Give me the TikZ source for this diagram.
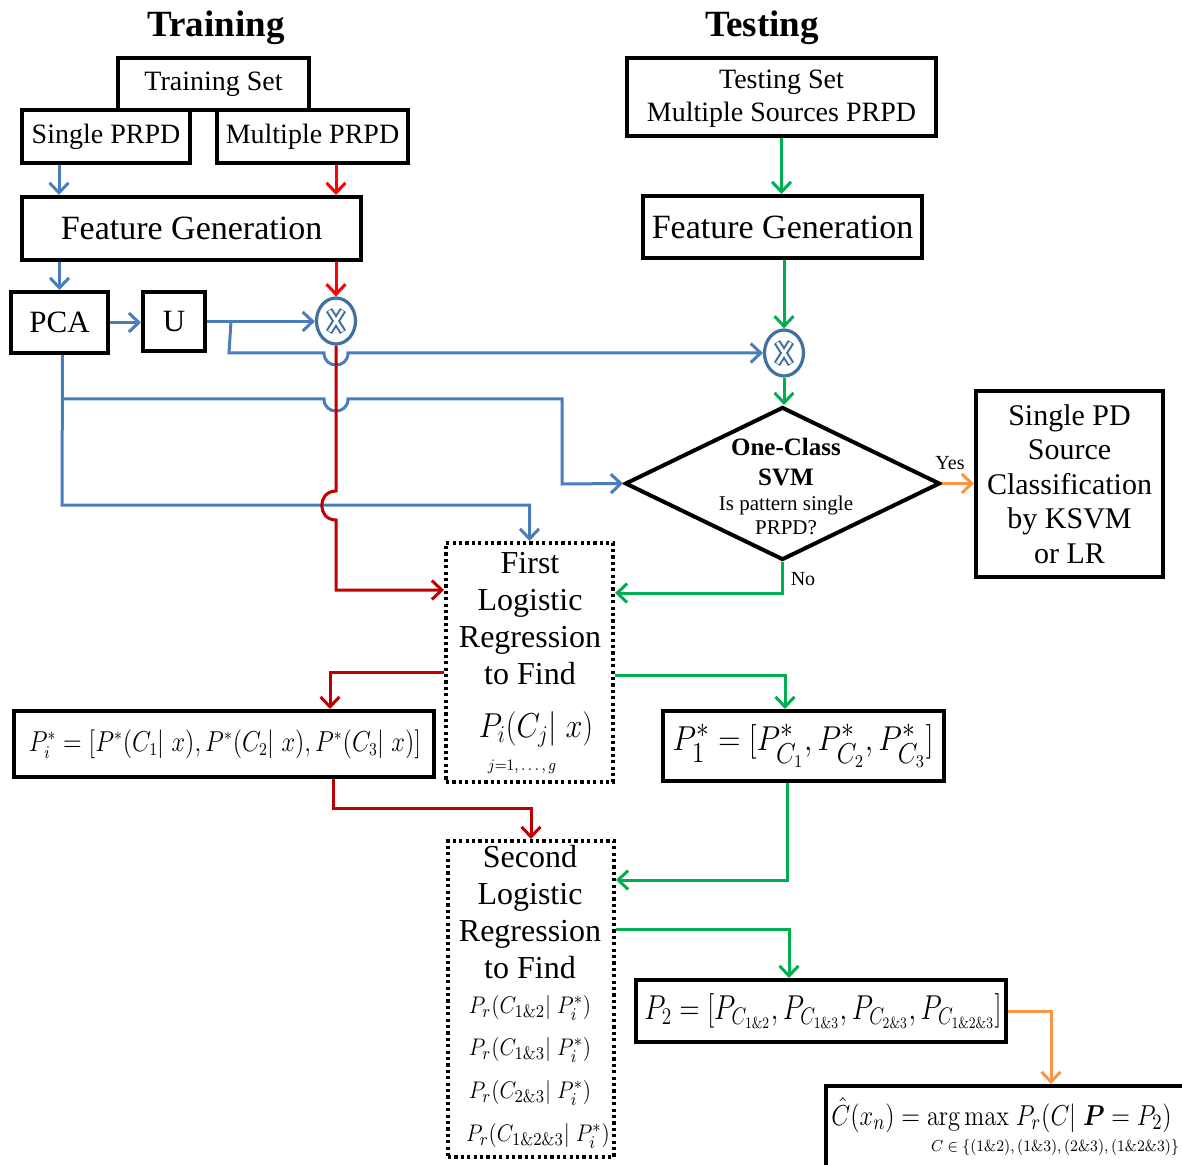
\documentclass[tikz,border=0pt]{standalone}
\usepackage{amsmath}
\usepackage{graphicx}
\usepackage[no-math]{fontspec}
\setmainfont{Liberation Serif}
\usetikzlibrary{arrows.meta,shapes.geometric}
\definecolor{cblue}{RGB}{74,126,187}
\definecolor{cred}{RGB}{255,0,0}
\definecolor{cdred}{RGB}{192,0,0}
\definecolor{cgreen}{RGB}{0,176,80}
\definecolor{corange}{RGB}{247,150,70}
\definecolor{cx}{RGB}{65,113,156}
\newcommand\fs[2]{\fontsize{#1}{#2}\selectfont}
\newcommand\sx[2]{\scalebox{#1}[1]{#2}}
\newcommand\crossmark[3]{%
  \node[xnode] (#1) at (#2,#3) {};
  \draw[cx,line width=3.6pt] (#2-7,#3-11) -- (#2+7,#3+11) (#2-7,#3+11) -- (#2+7,#3-11);
  \draw[white,line width=1.5pt] (#2-6.6,#3-10.4) -- (#2+6.6,#3+10.4) (#2-6.6,#3+10.4) -- (#2+6.6,#3-10.4);
}
\begin{document}
\begin{tikzpicture}[x=0.5pt,y=-0.5pt,
  box/.style={draw,line width=2pt,inner sep=0pt,fill=white},
  dbox/.style={draw,line width=2pt,inner sep=0pt,dash pattern=on 1.6pt off 1.6pt},
  xnode/.style={ellipse,draw=cx,line width=1.6pt,fill=white,minimum width=19.5pt,minimum height=23pt,inner sep=0pt},
  arr/.style={-{Straight Barb[length=5pt,width=9.5pt]}},
  bl/.style={draw=cblue,line width=1.5pt,arr},
  rd/.style={draw=cred,line width=1.5pt,arr},
  drd/.style={draw=cdred,line width=1.5pt,arr},
  gr/.style={draw=cgreen,line width=1.5pt,arr},
  og/.style={draw=corange,line width=1.5pt,arr},
  t14/.style={font=\fs{14}{16.5}},
]
\useasboundingbox (0,0) rectangle (1182,1165);

% titles
\node[font=\bfseries\fs{18.5}{20}] (ttrain) at (216,28) {Training};
\node[font=\bfseries\fs{18.5}{20}] (ttest) at (762,28) {Testing};

% training boxes
\node[box,t14,minimum width=95.5pt,minimum height=26pt] (trainset) at (213.5,84) {Training Set};
\node[box,t14,minimum width=84pt,minimum height=26.5pt] (single) at (106,136.5) {Single PRPD};
\node[box,t14,minimum width=95.5pt,minimum height=26.5pt] (multi) at (312.5,136.5) {Multiple PRPD};
\node[box,font=\fs{17}{20},minimum width=169.5pt,minimum height=31.5pt] (fgL) at (191.5,228.5) {Feature Generation};
\node[box,font=\fs{15.5}{18},minimum width=48.5pt,minimum height=30.5pt] (pca) at (59.5,322.5) {PCA};
\node[box,font=\fs{15.5}{18},minimum width=31pt,minimum height=29.5pt] (u) at (174,321.5) {U};

% testing boxes
\node[box,minimum width=154.5pt,minimum height=39pt] (testset) at (781.5,97) {};
\node[t14,align=center] (testsett) at (781.5,99) {Testing Set\\Multiple Sources PRPD};
\node[box,font=\fs{17}{20},minimum width=139.5pt,minimum height=31pt] (fgR) at (782.5,227) {Feature Generation};

\crossmark{xL}{336}{321}
\crossmark{xR}{784}{353}

% diamond
\node[diamond,draw,line width=2pt,inner sep=0pt,minimum width=157.5pt,minimum height=76.5pt] (svm) at (782.5,483.5) {};
\node[font=\bfseries\fs{12.5}{15},align=center] (svmt) at (786,462) {One-Class\\SVM};
\node[font=\fs{10.5}{12},align=center] (svmq) at (786,515) {Is pattern single\\PRPD?};

\node[box,font=\fs{15}{17.25},align=center,minimum width=93.5pt,minimum height=93pt] (spd) at (1069.5,484) {Single PD\\Source\\Classification\\by KSVM\\or LR};

% first LR
\node[dbox,minimum width=83.5pt,minimum height=119.5pt] (lr1) at (529.5,662.5) {};
\node[font=\fs{16}{18.5},align=center] (lr1t) at (530,619) {First\\Logistic\\Regression\\to Find};
\node[font=\fs{17}{20}] (lr1f) at (536,729) {\sx{0.88}{$P_i(C_j|\; x)$}};
\node[font=\fs{8}{9}] (lr1s) at (522,767) {\sx{0.9}{$j{=}1,\ldots,g$}};

\node[box,minimum width=210pt,minimum height=33pt] (pi) at (224,744) {};
\node[font=\fs{13.5}{16}] (pif) at (225,744) {\sx{0.85}{$P_i^*=[P^*(C_1|\; x),P^*(C_2|\; x),P^*(C_3|\; x)]$}};
\node[box,minimum width=140.5pt,minimum height=35pt] (p1) at (803.5,746) {};
\node[font=\fs{19}{22}] (p1f) at (803,746) {\sx{0.89}{$P_1^*=[P^*_{C_1},P^*_{C_2},P^*_{C_3}]$}};

% second LR
\node[dbox,minimum width=83pt,minimum height=158pt] (lr2) at (531,999) {};
\node[font=\fs{16}{18.5},align=center] (lr2t) at (530,912) {Second\\Logistic\\Regression\\to Find};
\node[font=\fs{13}{15}] (f1) at (530,1008) {\sx{0.9}{$P_r(C_{1\&2}|\; P_i^*)$}};
\node[font=\fs{13}{15}] (f2) at (530,1050) {\sx{0.9}{$P_r(C_{1\&3}|\; P_i^*)$}};
\node[font=\fs{13}{15}] (f3) at (530,1093) {\sx{0.9}{$P_r(C_{2\&3}|\; P_i^*)$}};
\node[font=\fs{13}{15}] (f4) at (538,1136) {\sx{0.9}{$P_r(C_{1\&2\&3}|\; P_i^*)$}};

\node[box,minimum width=185pt,minimum height=31pt] (p2) at (821,1011) {};
\node[font=\fs{17}{20}] (p2f) at (823,1011) {\sx{0.8}{$P_2=[P_{C_{1\&2}},P_{C_{1\&3}},P_{C_{2\&3}},P_{C_{1\&2\&3}}]$}};

\node[box,minimum width=187pt,minimum height=47pt] (chat) at (1013,1133) {};
\node[font=\fs{15}{18},anchor=west,inner sep=1pt] (chatf) at (829,1115) {\sx{0.85}{$\hat C(x_n)=\mathrm{arg\,max}\;P_r(C|\;\boldsymbol{P}=P_2)$}};
\node[font=\fs{8}{9},inner sep=1pt] (chats) at (1055,1147) {\sx{0.92}{$C\in\{(1\&2),(1\&3),(2\&3),(1\&2\&3)\}$}};

% blue connectors
\draw[bl] ([xshift=-23.5pt]single.south) -- ([xshift=-23.5pt]single.south |- fgL.north);
\draw[bl] (pca.north |- fgL.south) -- (pca.north);
\draw[bl] (pca.east) -- (pca.east -| u.west);
\draw[bl] (u.east) -- (u.east -| xL.west);
\draw[bl] ([xshift=12pt]u.east) -- (229,353) -- (324,353) .. controls (324,369) and (348,369) .. (348,353) -- (xR.west);
\draw[bl] ([xshift=1.5pt]pca.south) -- (62,505) -- (lr1.north |- 0,505) -- (lr1.north);
\coordinate (pcabr) at (62,399);
\draw[bl] (pcabr) -- (324,399) .. controls (324,415) and (348,415) .. (348,399) -- (562,399) -- (562,484) -- (svm.west);

% red connectors
\draw[rd] ([xshift=11.75pt]multi.south) -- ([xshift=11.75pt]multi.south |- fgL.north);
\draw[rd] (xL.north |- fgL.south) -- (xL.north);
\draw[drd] (xL.south) -- (336,491) .. controls (317,491) and (317,520) .. (336,520) -- (336,590) -- (lr1.west |- 0,590);
\draw[drd] (lr1.west |- 0,672) -- (330,672) -- ([xshift=53pt]pi.north);
\draw[drd] ([xshift=54.5pt]pi.south) -- (333,808) -- (lr2.north |- 0,808) -- (lr2.north);

% green connectors
\draw[gr] (testset.south) -- (testset.south |- fgR.north);
\draw[gr] (xR.north |- fgR.south) -- (xR.north);
\draw[gr] (xR.south) -- (xR.south |- svm.north);
\draw[gr] (svm.south) -- (782.5,593) -- (lr1.east |- 0,593);
\draw[gr] (lr1.east |- 0,675) -- (785,675) -- ([xshift=-9.25pt]p1.north);
\draw[gr] ([xshift=-8.25pt]p1.south) -- (787,880) -- (lr2.east |- 0,880);
\draw[gr] (lr2.east |- 0,929) -- (789,929) -- ([xshift=-16pt]p2.north);

% orange connectors
\draw[og] (svm.east) -- (spd.west |- svm.east);
\draw[og] (p2.east) -- (1051,1011) -- ([xshift=19pt]chat.north);

% labels
\node[font=\fs{10}{12}] (yes) at (950,463) {Yes};
\node[font=\fs{10}{12}] (no) at (803,579) {No};
\end{tikzpicture}
\end{document}
